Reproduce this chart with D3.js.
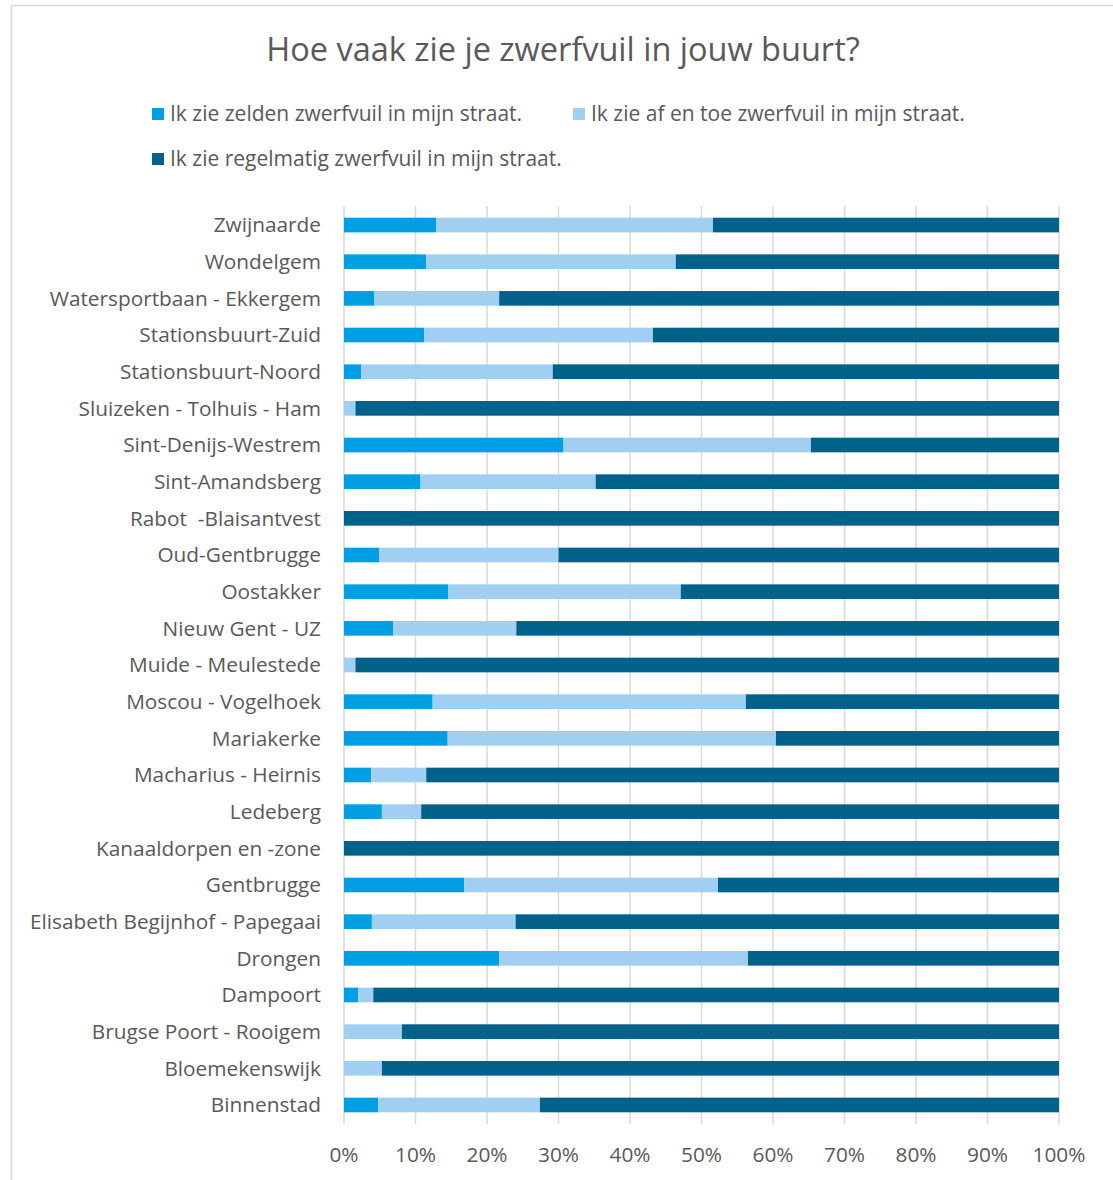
<!DOCTYPE html>
<html>
<head>
<meta charset="utf-8">
<script src="https://cdn.jsdelivr.net/npm/d3@7"></script>
<style>
  body { margin: 0; background: #fff; }
  svg text { font-family: "Open Sans", Lato, sans-serif; fill: #595959; white-space: pre; }
</style>
</head>
<body>
<svg id="chart" width="1113" height="1180"></svg>
<script>
(function(){
    // buurten, top to bottom
    const categories = [
        "Zwijnaarde", "Wondelgem", "Watersportbaan - Ekkergem", "Stationsbuurt-Zuid",
        "Stationsbuurt-Noord", "Sluizeken - Tolhuis - Ham", "Sint-Denijs-Westrem",
        "Sint-Amandsberg", "Rabot  -Blaisantvest", "Oud-Gentbrugge", "Oostakker",
        "Nieuw Gent - UZ", "Muide - Meulestede", "Moscou - Vogelhoek", "Mariakerke",
        "Macharius - Heirnis", "Ledeberg", "Kanaaldorpen en -zone", "Gentbrugge",
        "Elisabeth Begijnhof - Papegaai", "Drongen", "Dampoort", "Brugse Poort - Rooigem",
        "Bloemekenswijk", "Binnenstad"
    ];
    const seriesNames = [
        "Ik zie zelden zwerfvuil in mijn straat.",
        "Ik zie af en toe zwerfvuil in mijn straat.",
        "Ik zie regelmatig zwerfvuil in mijn straat."
    ];
    // percentages per series
    const zelden = [12.9, 11.5, 4.2, 11.2, 2.4, 0, 30.7, 10.7, 0, 4.9, 14.6, 6.9, 0,
                    12.4, 14.5, 3.8, 5.3, 0, 16.8, 3.9, 21.7, 2.0, 0, 0, 4.8];
    const afEnToe = [38.7, 34.9, 17.5, 32.0, 26.8, 1.6, 34.6, 24.5, 0, 25.1, 32.5, 17.2, 1.6,
                     43.8, 45.9, 7.7, 5.5, 0, 35.5, 20.1, 34.8, 2.1, 8.1, 5.3, 22.6];
    const regelmatig = [48.4, 53.6, 78.3, 56.8, 70.8, 98.4, 34.7, 64.8, 100, 70.0, 52.9, 75.9, 98.4,
                        43.8, 39.6, 88.5, 89.2, 100, 47.7, 76.0, 43.5, 95.9, 91.9, 94.7, 72.6];
    const xTicks = [0, 10, 20, 30, 40, 50, 60, 70, 80, 90, 100];
    const colors = ["#009fe3", "#a1cff2", "#00628b"];

    const rows = categories.map((c, i) => ({ cat: c, vals: [zelden[i], afEnToe[i], regelmatig[i]] }));

    const svg = d3.select("#chart");

    // chart frame
    svg.append("rect").attr("x", 11.5).attr("y", 5.5).attr("width", 1120).attr("height", 1200)
        .attr("fill", "none").attr("stroke", "#d9d9d9").attr("stroke-width", 1.5);

    svg.append("text").attr("x", 563).attr("y", 61).attr("text-anchor", "middle")
        .style("font-size", "32.5px")
        .text("Hoe vaak zie je zwerfvuil in jouw buurt?");

    // legend
    const legPos = [[152, 114], [573, 114], [152, 159]];
    const leg = svg.selectAll(".leg").data(seriesNames).enter().append("g")
        .attr("class", "leg")
        .attr("transform", (_, i) => `translate(${legPos[i][0]},${legPos[i][1]})`);
    leg.append("rect").attr("x", 0).attr("y", -6).attr("width", 12).attr("height", 12)
        .attr("fill", (_, i) => colors[i]);
    leg.append("text").attr("x", 18).attr("dy", "0.35em").style("font-size", "21px").text(d => d);

    // scales
    const x = d3.scaleLinear().domain([0, 100]).range([344, 1059]);
    const y = d3.scaleBand().domain(categories).range([206.7, 1123.3]).paddingInner(0.6).paddingOuter(0.3);

    // gridlines
    svg.append("g").selectAll("line").data(xTicks).enter().append("line")
        .attr("x1", d => x(d)).attr("x2", d => x(d))
        .attr("y1", 206).attr("y2", 1124)
        .attr("stroke", "#d9d9d9").attr("stroke-width", 1.5);

    // stacked bars
    const stack = rows.map(r => {
        let acc = 0;
        return r.vals.map((v, k) => { const s = acc; acc += v; return { cat: r.cat, k, x0: s, x1: acc }; });
    }).flat();

    svg.append("g").selectAll("rect").data(stack).enter().append("rect")
        .attr("x", d => x(d.x0))
        .attr("width", d => Math.max(0, x(d.x1) - x(d.x0)))
        .attr("y", d => y(d.cat))
        .attr("height", y.bandwidth())
        .attr("fill", d => colors[d.k]);

    // category labels
    svg.append("g").selectAll("text").data(categories).enter().append("text")
        .attr("x", 321).attr("y", d => y(d) + y.bandwidth() / 2).attr("dy", "0.35em")
        .attr("text-anchor", "end").style("font-size", "20.8px").text(d => d);

    // x axis labels
    svg.append("g").selectAll("text").data(xTicks).enter().append("text")
        .attr("x", d => x(d)).attr("y", 1155).attr("dy", "0.35em")
        .attr("text-anchor", "middle").style("font-size", "20.8px").text(d => d + "%");
})();
</script>
</body>
</html>
